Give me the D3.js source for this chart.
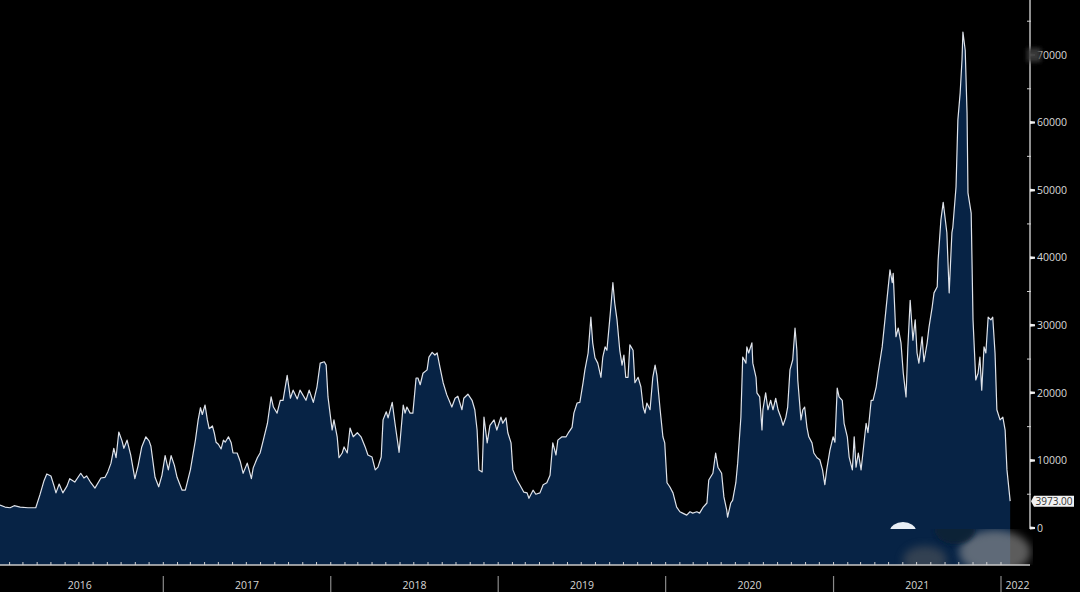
<!DOCTYPE html>
<html>
<head>
<meta charset="utf-8">
<script src="https://cdn.jsdelivr.net/npm/d3@7"></script>
<style>
  html, body { margin: 0; padding: 0; background: #000; }
  svg { display: block; }
</style>
</head>
<body>
<svg id="chart" width="1080" height="592"></svg>
<script>
// ---------- DATA ----------
const dates2016 = ["2016-01-11","2016-01-22","2016-02-02","2016-02-11","2016-02-24","2016-03-12","2016-03-29","2016-04-07","2016-04-16","2016-04-22","2016-05-01","2016-05-08","2016-05-12","2016-05-19","2016-05-27","2016-06-05","2016-06-11","2016-06-22","2016-07-05","2016-07-12","2016-07-18","2016-07-27","2016-08-05","2016-08-18","2016-08-27","2016-09-02","2016-09-09","2016-09-15","2016-09-20","2016-09-26","2016-10-03","2016-10-07","2016-10-14","2016-10-22","2016-10-31","2016-11-07","2016-11-15","2016-11-24","2016-12-01","2016-12-05","2016-12-14","2016-12-22","2016-12-29"];
const values2016 = [3400,3100,3000,3300,3100,3000,3000,4900,7000,8000,7700,6200,5200,6500,5200,6200,7300,6800,8100,7400,7700,6700,5900,7400,7500,8300,9600,11800,10400,14200,12900,11800,13000,10800,7300,9200,12000,13500,12900,12100,7500,6100,7800];

const dates2017 = ["2017-01-05","2017-01-12","2017-01-18","2017-01-25","2017-01-31","2017-02-11","2017-02-18","2017-03-01","2017-03-12","2017-03-18","2017-03-23","2017-03-27","2017-04-02","2017-04-07","2017-04-11","2017-04-18","2017-04-22","2017-04-26","2017-05-01","2017-05-07","2017-05-12","2017-05-16","2017-05-23","2017-05-29","2017-06-02","2017-06-11","2017-06-18","2017-06-24","2017-07-03","2017-07-12","2017-07-16","2017-07-25","2017-07-31","2017-08-07","2017-08-16","2017-08-24","2017-08-29","2017-09-06","2017-09-13","2017-09-19","2017-09-28","2017-10-05","2017-10-11","2017-10-20","2017-10-26","2017-11-08","2017-11-15","2017-11-24","2017-12-02","2017-12-09","2017-12-18","2017-12-22","2017-12-26"];
const values2017 = [10700,8600,10700,9300,7500,5600,5600,8600,13000,16000,17800,16800,18200,16000,14700,15100,14100,12700,12400,11700,13000,12700,13500,12600,11100,11100,9800,8100,9600,7300,8900,10400,11100,13000,15500,19400,17900,17000,18900,18900,22600,19200,20400,19100,20400,18900,20400,18600,20900,24400,24600,24100,19400];

const dates2018 = ["2018-01-04","2018-01-08","2018-01-15","2018-01-19","2018-01-26","2018-01-30","2018-02-06","2018-02-12","2018-02-19","2018-02-28","2018-03-08","2018-03-17","2018-03-23","2018-04-01","2018-04-08","2018-04-14","2018-04-21","2018-04-25","2018-05-02","2018-05-06","2018-05-15","2018-05-21","2018-05-30","2018-06-08","2018-06-12","2018-06-16","2018-06-23","2018-06-29","2018-07-06","2018-07-10","2018-07-15","2018-07-21","2018-07-30","2018-08-03","2018-08-10","2018-08-16","2018-08-21","2018-08-27","2018-09-03","2018-09-11","2018-09-22","2018-09-29","2018-10-05","2018-10-14","2018-10-18","2018-10-27","2018-11-05","2018-11-11","2018-11-16","2018-11-20","2018-11-27","2018-12-01","2018-12-08","2018-12-14","2018-12-23","2018-12-29"];
const values2018 = [14500,16000,13500,10400,11100,12000,11100,14800,13500,14100,13500,12000,10800,10500,8600,9000,10500,16000,17200,16300,18600,15500,11200,18200,17000,17900,17000,17000,22200,22200,21200,22900,23400,25300,26000,25600,25900,23800,21500,19700,17900,19200,19500,17500,19200,19800,18900,17500,14500,8600,8300,16400,12600,15200,16000,14500];

const dates2019 = ["2019-01-07","2019-01-11","2019-01-18","2019-01-22","2019-01-29","2019-02-02","2019-02-11","2019-02-17","2019-02-26","2019-03-05","2019-03-09","2019-03-18","2019-03-24","2019-04-02","2019-04-09","2019-04-17","2019-04-24","2019-04-30","2019-05-07","2019-05-11","2019-05-20","2019-05-29","2019-06-04","2019-06-11","2019-06-15","2019-06-22","2019-06-28","2019-07-05","2019-07-09","2019-07-16","2019-07-22","2019-07-26","2019-07-31","2019-08-06","2019-08-13","2019-08-17","2019-08-22","2019-08-26","2019-09-02","2019-09-08","2019-09-12","2019-09-17","2019-09-23","2019-09-28","2019-10-02","2019-10-06","2019-10-11","2019-10-15","2019-10-22","2019-10-26","2019-11-02","2019-11-08","2019-11-13","2019-11-17","2019-11-21","2019-11-28","2019-12-04","2019-12-09","2019-12-13","2019-12-20","2019-12-26","2019-12-30"];
const values2019 = [16400,15500,16300,14100,12600,8600,7100,6400,5300,5200,4400,5600,5000,5200,6400,6700,7800,12600,10800,13000,13500,13500,14200,14900,17000,18500,18600,21500,23400,25900,31200,27400,25200,24400,22300,25300,26800,26300,31500,36300,33300,30800,26300,24100,25600,22300,22300,27100,26300,21500,22300,20900,17900,17000,18500,17500,22300,24100,22600,17500,13500,12600];

const dates2020 = ["2020-01-04","2020-01-10","2020-01-17","2020-01-25","2020-02-01","2020-02-07","2020-02-16","2020-02-23","2020-02-29","2020-03-09","2020-03-15","2020-03-22","2020-03-31","2020-04-04","2020-04-13","2020-04-19","2020-04-24","2020-05-02","2020-05-07","2020-05-13","2020-05-15","2020-05-22","2020-05-26","2020-06-02","2020-06-06","2020-06-13","2020-06-17","2020-06-24","2020-06-26","2020-06-30","2020-07-07","2020-07-09","2020-07-16","2020-07-18","2020-07-24","2020-07-29","2020-07-31","2020-08-06","2020-08-11","2020-08-17","2020-08-22","2020-08-28","2020-09-02","2020-09-08","2020-09-13","2020-09-19","2020-09-23","2020-09-28","2020-10-04","2020-10-09","2020-10-13","2020-10-15","2020-10-22","2020-10-26","2020-10-30","2020-11-04","2020-11-08","2020-11-15","2020-11-19","2020-11-26","2020-12-02","2020-12-08","2020-12-13","2020-12-17","2020-12-24","2020-12-31"];
const values2020 = [6700,6100,5200,3100,2400,2200,1900,2400,2200,2400,2200,3000,3700,7100,8100,11100,9000,8100,4600,2700,1600,3700,4100,6700,9600,16400,25300,24400,26800,25900,27400,24400,22300,20000,19400,14500,17500,20000,17500,18900,17500,19200,17500,16400,15200,16400,17900,23400,24900,29600,26300,21900,16000,17500,17900,14900,13500,12600,11100,10400,10100,8600,6400,8600,11500,13500];

const dates2021 = ["2021-01-04","2021-01-09","2021-01-13","2021-01-20","2021-01-24","2021-01-31","2021-02-04","2021-02-11","2021-02-15","2021-02-19","2021-02-24","2021-03-02","2021-03-06","2021-03-13","2021-03-17","2021-03-24","2021-03-28","2021-04-04","2021-04-08","2021-04-17","2021-04-23","2021-04-28","2021-05-04","2021-05-09","2021-05-11","2021-05-17","2021-05-22","2021-05-28","2021-06-02","2021-06-08","2021-06-12","2021-06-17","2021-06-23","2021-06-28","2021-07-02","2021-07-06","2021-07-13","2021-07-17","2021-07-24","2021-07-28","2021-08-04","2021-08-08","2021-08-15","2021-08-17","2021-08-23","2021-08-28","2021-08-30","2021-09-05","2021-09-10","2021-09-16","2021-09-18","2021-09-25","2021-09-29","2021-10-04","2021-10-08","2021-10-10","2021-10-15","2021-10-19","2021-10-21","2021-10-28","2021-11-01","2021-11-07","2021-11-12","2021-11-16","2021-11-20","2021-11-25","2021-11-29","2021-12-04","2021-12-10","2021-12-14","2021-12-19","2021-12-23","2021-12-30"];
const values2021 = [12700,20700,19400,18900,15500,13500,10500,8600,13500,9000,11100,8600,11100,15500,14100,18900,18900,20900,22900,26800,30800,34200,38200,36300,37700,28300,29600,27400,22900,19400,26800,33700,27800,30800,25900,24400,28300,24600,27400,29700,32700,34800,35700,39700,45600,48200,47100,43700,34800,43700,44500,50500,60400,64400,69300,73400,70700,61400,49600,46600,30800,21900,22900,25300,20400,26800,25900,31200,30800,31200,25900,17500,16000];

const dates2022 = ["2022-01-05","2022-01-10","2022-01-14","2022-01-21"];
const values2022 = [16400,14500,8600,3973];

const yTickValues = [0,10000,20000,30000,40000,50000,60000,70000];
const yMinorValues = [5000,15000,25000,35000,45000,55000,65000,75000];
const yearLabels = ["2016","2017","2018","2019","2020","2021","2022"];
const lastLabel = "3973.00";

// ---------- BUILD ----------
const parse = d3.timeParse("%Y-%m-%d");
const allDates = [].concat(dates2016, dates2017, dates2018, dates2019, dates2020, dates2021, dates2022);
const allValues = [].concat(values2016, values2017, values2018, values2019, values2020, values2021, values2022);
const data = allDates.map((d, i) => ({ date: parse(d), value: allValues[i] }));

const svg = d3.select("#chart");
const W = 1080, H = 592;
svg.append("rect").attr("width", W).attr("height", H).attr("fill", "#000");

const axisX = 1030;       // right value axis
const plotBottom = 565;   // time axis line

const x = d3.scaleTime()
  .domain([new Date(2016, 0, 1), new Date(2022, 0, 1)])
  .range([-4.6, 1001]);
const y = d3.scaleLinear().domain([0, 70000]).range([528, 55]);

const area = d3.area()
  .x(d => x(d.date))
  .y0(plotBottom)
  .y1(d => y(d.value));
const line = d3.line()
  .x(d => x(d.date))
  .y(d => y(d.value));

const defs = svg.append("defs");
defs.append("clipPath").attr("id", "plotclip")
  .append("rect").attr("x", 0).attr("y", 0).attr("width", axisX).attr("height", plotBottom);
defs.append("clipPath").attr("id", "wmclip")
  .append("rect").attr("x", 880).attr("y", 529).attr("width", 153).attr("height", 36);
const blur = defs.append("filter").attr("id", "blur").attr("x", "-50%").attr("y", "-50%").attr("width", "200%").attr("height", "200%");
blur.append("feGaussianBlur").attr("stdDeviation", 4);
const blur2 = defs.append("filter").attr("id", "blur2").attr("x", "-50%").attr("y", "-50%").attr("width", "200%").attr("height", "200%");
blur2.append("feGaussianBlur").attr("stdDeviation", 2);

const g = svg.append("g").attr("clip-path", "url(#plotclip)");
g.append("path").datum(data).attr("d", area).attr("fill", "#072345");
g.append("path").datum(data).attr("d", line)
  .attr("fill", "none").attr("stroke", "#dfe3ea").attr("stroke-width", 1.2)
  .attr("stroke-linejoin", "round");

// watermark-like blobs near bottom right
const wm = svg.append("g").attr("clip-path", "url(#wmclip)");
wm.append("ellipse").attr("cx", 995).attr("cy", 552).attr("rx", 36).attr("ry", 22)
  .attr("fill", "#9a9a9a").attr("opacity", 0.6).attr("filter", "url(#blur)");
wm.append("ellipse").attr("cx", 925).attr("cy", 560).attr("rx", 22).attr("ry", 14)
  .attr("fill", "#5f5f5f").attr("opacity", 0.5).attr("filter", "url(#blur)");
wm.append("ellipse").attr("cx", 955).attr("cy", 530).attr("rx", 20).attr("ry", 14)
  .attr("fill", "#0d2036").attr("opacity", 0.9).attr("filter", "url(#blur2)");
defs.append("clipPath").attr("id", "capclip")
  .append("rect").attr("x", 880).attr("y", 515).attr("width", 50).attr("height", 14);
svg.append("ellipse").attr("cx", 903).attr("cy", 531).attr("rx", 13).attr("ry", 9)
  .attr("fill", "#e8eef5").attr("clip-path", "url(#capclip)");

// ---------- right value axis ----------
const ax = svg.append("g");
ax.append("line").attr("x1", axisX).attr("x2", axisX).attr("y1", 0).attr("y2", 529)
  .attr("stroke", "#bfbfbf").attr("stroke-width", 1.5);

ax.selectAll("line.minor").data(yMinorValues).join("line").attr("class", "minor")
  .attr("x1", axisX - 3).attr("x2", axisX + 1)
  .attr("y1", d => y(d)).attr("y2", d => y(d))
  .attr("stroke", "#cfcfcf").attr("stroke-width", 1);

ax.selectAll("path.major").data(yTickValues).join("path").attr("class", "major")
  .attr("d", d => `M${axisX},${y(d) - 1.5} L${axisX + 5},${y(d) - 1} L${axisX + 5},${y(d) + 1} L${axisX},${y(d) + 1.5} Z`)
  .attr("fill", "#f0f0f0");

ax.selectAll("text.ylab").data(yTickValues).join("text").attr("class", "ylab")
  .attr("x", axisX + 7).attr("y", d => y(d))
  .attr("dy", "0.35em")
  .attr("fill", "#d9d9d9")
  .attr("font-family", "'Open Sans', 'Liberation Sans', sans-serif")
  .attr("font-size", 10.5)
  .text(d => d3.format("d")(d));

// smudge over the top label (as in reference)
svg.append("rect").attr("x", 1027).attr("y", 48).attr("width", 14).attr("height", 14)
  .attr("fill", "#3a3a3a").attr("opacity", 0.95).attr("filter", "url(#blur2)");

// last value label
const last = data[data.length - 1];
const ly = y(last.value);
const lab = svg.append("g");
lab.append("path")
  .attr("d", `M${axisX + 1},${ly} L${axisX + 4},${ly - 5.5} L${axisX + 44},${ly - 5.5} L${axisX + 44},${ly + 5.5} L${axisX + 4},${ly + 5.5} Z`)
  .attr("fill", "#f2f2f2");
lab.append("text").attr("x", axisX + 24).attr("y", ly).attr("dy", "0.36em")
  .attr("text-anchor", "middle")
  .attr("fill", "#333")
  .attr("font-family", "'Open Sans', 'Liberation Sans', sans-serif")
  .attr("font-size", 10)
  .text(lastLabel);

// ---------- bottom time axis ----------
const bx = svg.append("g");
bx.append("line").attr("x1", 0).attr("x2", axisX).attr("y1", plotBottom).attr("y2", plotBottom)
  .attr("stroke", "#c8c8c8").attr("stroke-width", 1.5);

const months = d3.timeMonth.range(new Date(2016, 1, 1), new Date(2022, 1, 1));
bx.selectAll("line.mt").data(months).join("line").attr("class", "mt")
  .attr("x1", d => x(d)).attr("x2", d => x(d))
  .attr("y1", plotBottom - 3).attr("y2", plotBottom)
  .attr("stroke", "#d0d0d0").attr("stroke-width", 1);

const yearStarts = yearLabels.map(s => new Date(+s, 0, 1));
bx.selectAll("line.sep").data(yearStarts.slice(1)).join("line").attr("class", "sep")
  .attr("x1", d => x(d)).attr("x2", d => x(d))
  .attr("y1", 576).attr("y2", 592)
  .attr("stroke", "#8a8a8a").attr("stroke-width", 1.2);

bx.selectAll("text.yr").data(yearLabels).join("text").attr("class", "yr")
  .attr("x", (s, i) => {
    const a = x(yearStarts[i]);
    const b = i < yearLabels.length - 1 ? x(yearStarts[i + 1]) : axisX + 4;
    return (Math.max(a, 0) + b) / 2 + (i === 0 ? -2 : 0);
  })
  .attr("y", 589)
  .attr("text-anchor", "middle")
  .attr("fill", "#d6d6d6")
  .attr("font-family", "'Open Sans', 'Liberation Sans', sans-serif")
  .attr("font-size", 10.5)
  .text(s => s);
</script>
</body>
</html>
